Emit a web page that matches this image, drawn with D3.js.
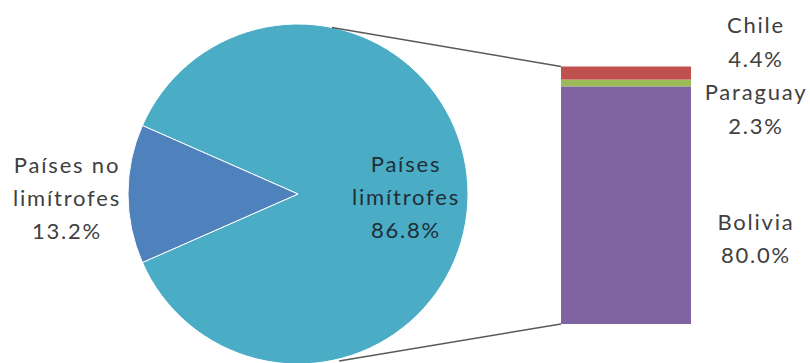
<!doctype html>
<html>
<head>
<style>
  body { margin: 0; background: #fff; }
  text { font-family: Lato, "Open Sans", sans-serif; font-size: 22px; letter-spacing: 1.8px; }
</style>
</head>
<body>
<div id="chart"></div>
<script src="https://d3js.org/d3.v7.min.js"></script>
<script>
// pie data
var pieNames = ["Países limítrofes", "Países no limítrofes"];
var pieValues = [86.8, 13.2];
var pieColors = ["#4bacc6", "#4f81bd"];
// bar data (bottom to top)
var barNames = ["Bolivia", "Paraguay", "Chile"];
var barValues = [80.0, 2.3, 4.4];
var barColors = ["#8064a2", "#9bbb59", "#c0504d"];

var width = 810, height = 363;
var cx = 298, cy = 194, r = 170;

var svg = d3.select("#chart").append("svg")
    .attr("width", width)
    .attr("height", height);

// pie - small slice centred on the left
var small = pieValues[1] / d3.sum(pieValues) * 2 * Math.PI;
var pie = d3.pie().sort(null)
    .startAngle(-Math.PI / 2 + small / 2)
    .endAngle(-Math.PI / 2 + small / 2 + 2 * Math.PI);
var arc = d3.arc().innerRadius(0).outerRadius(r);

var g = svg.append("g").attr("transform", "translate(" + cx + "," + cy + ")");
g.selectAll("path")
    .data(pie(pieValues))
    .enter().append("path")
    .attr("d", arc)
    .attr("fill", function(d, i) { return pieColors[i]; })
    .attr("stroke", "#fff")
    .attr("stroke-width", 1);

// stacked bar
var bx0 = 561, bx1 = 691;
var y = d3.scaleLinear()
    .domain([0, d3.sum(barValues)])
    .range([324, 66.5]);
var cum = 0;
var segs = barValues.map(function(v, i) {
    var s = {name: barNames[i], v0: cum, v1: cum + v, color: barColors[i]};
    cum += v;
    return s;
});
svg.selectAll(".seg")
    .data(segs)
    .enter().append("rect")
    .attr("class", "seg")
    .attr("x", bx0)
    .attr("width", bx1 - bx0)
    .attr("y", function(d) { return y(d.v1); })
    .attr("height", function(d) { return y(d.v0) - y(d.v1); })
    .attr("fill", function(d) { return d.color; });

// connector lines
function onPie(deg) {
    var a = deg * Math.PI / 180;
    return [cx + r * Math.sin(a), cy - r * Math.cos(a)];
}
var pTop = onPie(11.5), pBot = onPie(166);
svg.append("line")
    .attr("x1", pTop[0]).attr("y1", pTop[1])
    .attr("x2", bx0).attr("y2", y(cum))
    .attr("stroke", "#595959").attr("stroke-width", 1.5);
svg.append("line")
    .attr("x1", pBot[0]).attr("y1", pBot[1] + 2)
    .attr("x2", bx0).attr("y2", y(0))
    .attr("stroke", "#595959").attr("stroke-width", 1.5);

// labels
function label(x, ys, lines, color) {
    var t = svg.append("text").attr("text-anchor", "middle").attr("fill", color);
    lines.forEach(function(s, i) {
        t.append("tspan").attr("x", x + 1).attr("y", ys[i]).text(s);
    });
}
function pct(v) { return v.toFixed(1) + "%"; }

label(405, [172, 205, 238], ["Países", "limítrofes", pct(pieValues[0])], "#1e2f36");
label(66, [173, 206, 239], ["Países no", "limítrofes", pct(pieValues[1])], "#404040");
label(755, [33, 67], [barNames[2], pct(barValues[2])], "#404040");
label(755, [100, 134], [barNames[1], pct(barValues[1])], "#404040");
label(755, [230, 263], [barNames[0], pct(barValues[0])], "#404040");
</script>
</body>
</html>
